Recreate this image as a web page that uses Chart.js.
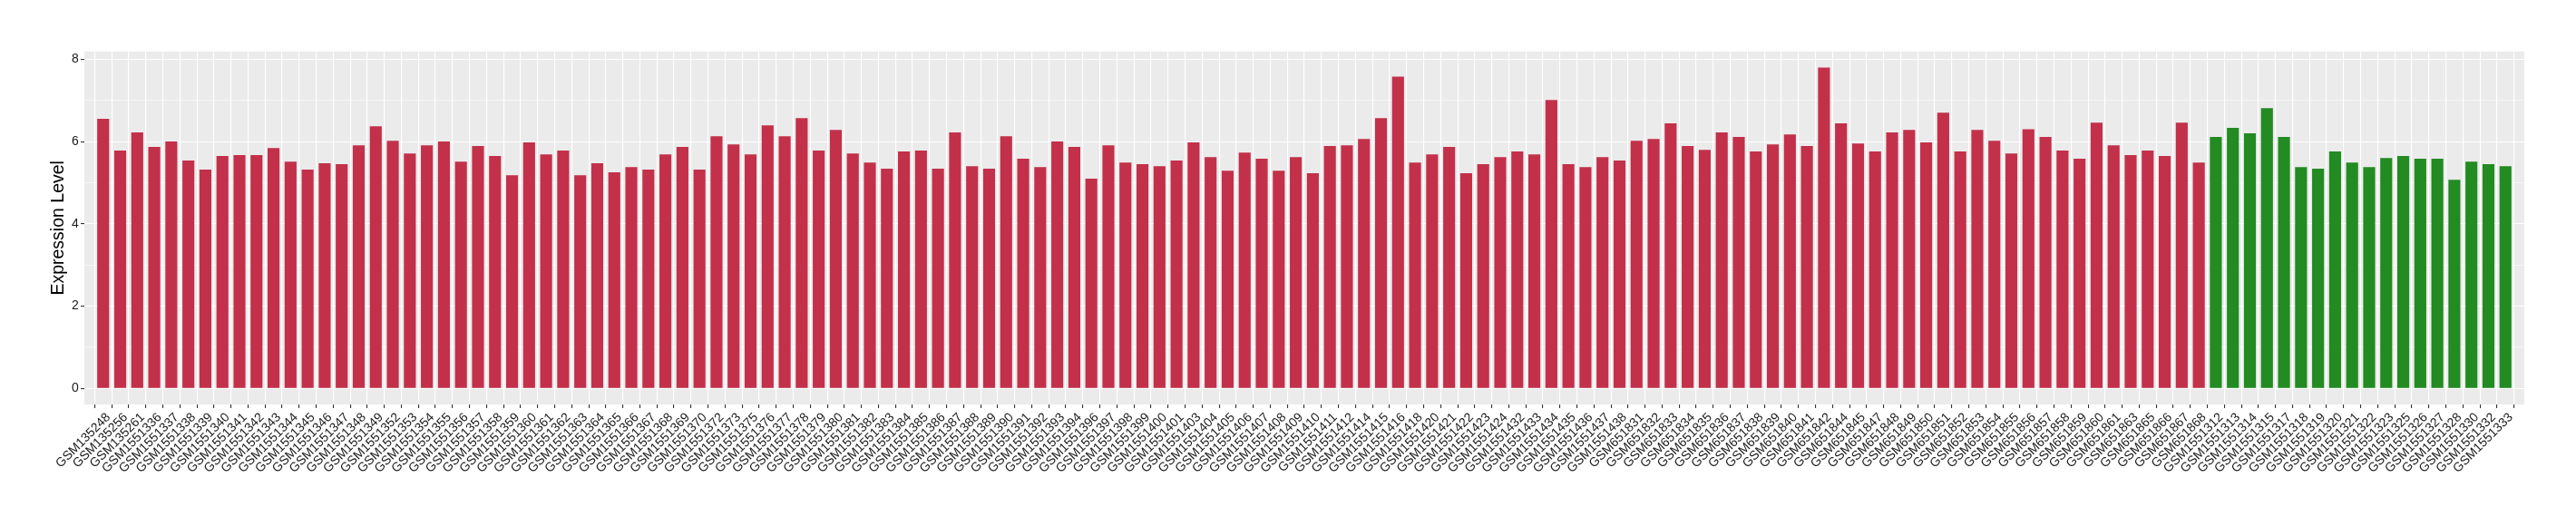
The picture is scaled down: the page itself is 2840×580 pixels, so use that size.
<!DOCTYPE html>
<html>
<head>
<meta charset="utf-8">
<script src="https://cdn.jsdelivr.net/npm/chart.js@4/dist/chart.umd.min.js"></script>
<style>
  html, body { margin: 0; padding: 0; background: #fff; }
  canvas { display: block; }
</style>
</head>
<body>
<canvas id="exprChart" width="2840" height="580"></canvas>
<script>
const tumorSamples = [
    'GSM135248', 'GSM135256', 'GSM135261', 'GSM1551336', 'GSM1551337', 'GSM1551338', 'GSM1551339', 'GSM1551340',
    'GSM1551341', 'GSM1551342', 'GSM1551343', 'GSM1551344', 'GSM1551345', 'GSM1551346', 'GSM1551347', 'GSM1551348',
    'GSM1551349', 'GSM1551352', 'GSM1551353', 'GSM1551354', 'GSM1551355', 'GSM1551356', 'GSM1551357', 'GSM1551358',
    'GSM1551359', 'GSM1551360', 'GSM1551361', 'GSM1551362', 'GSM1551363', 'GSM1551364', 'GSM1551365', 'GSM1551366',
    'GSM1551367', 'GSM1551368', 'GSM1551369', 'GSM1551370', 'GSM1551372', 'GSM1551373', 'GSM1551375', 'GSM1551376',
    'GSM1551377', 'GSM1551378', 'GSM1551379', 'GSM1551380', 'GSM1551381', 'GSM1551382', 'GSM1551383', 'GSM1551384',
    'GSM1551385', 'GSM1551386', 'GSM1551387', 'GSM1551388', 'GSM1551389', 'GSM1551390', 'GSM1551391', 'GSM1551392',
    'GSM1551393', 'GSM1551394', 'GSM1551396', 'GSM1551397', 'GSM1551398', 'GSM1551399', 'GSM1551400', 'GSM1551401',
    'GSM1551403', 'GSM1551404', 'GSM1551405', 'GSM1551406', 'GSM1551407', 'GSM1551408', 'GSM1551409', 'GSM1551410',
    'GSM1551411', 'GSM1551412', 'GSM1551414', 'GSM1551415', 'GSM1551416', 'GSM1551418', 'GSM1551420', 'GSM1551421',
    'GSM1551422', 'GSM1551423', 'GSM1551424', 'GSM1551432', 'GSM1551433', 'GSM1551434', 'GSM1551435', 'GSM1551436',
    'GSM1551437', 'GSM1551438', 'GSM651831', 'GSM651832', 'GSM651833', 'GSM651834', 'GSM651835', 'GSM651836',
    'GSM651837', 'GSM651838', 'GSM651839', 'GSM651840', 'GSM651841', 'GSM651842', 'GSM651844', 'GSM651845',
    'GSM651847', 'GSM651848', 'GSM651849', 'GSM651850', 'GSM651851', 'GSM651852', 'GSM651853', 'GSM651854',
    'GSM651855', 'GSM651856', 'GSM651857', 'GSM651858', 'GSM651859', 'GSM651860', 'GSM651861', 'GSM651863',
    'GSM651865', 'GSM651866', 'GSM651867', 'GSM651868'
];
const tumorExpression = [
    6.55, 5.78, 6.22, 5.87, 6.00, 5.54, 5.32, 5.65,
    5.67, 5.67, 5.84, 5.51, 5.32, 5.47, 5.45, 5.91,
    6.37, 6.02, 5.71, 5.91, 6.00, 5.51, 5.89, 5.65,
    5.18, 5.98, 5.69, 5.78, 5.18, 5.47, 5.25, 5.38,
    5.32, 5.69, 5.87, 5.32, 6.13, 5.93, 5.69, 6.39,
    6.13, 6.57, 5.78, 6.28, 5.71, 5.49, 5.34, 5.76,
    5.78, 5.34, 6.22, 5.40, 5.34, 6.13, 5.58, 5.38,
    6.00, 5.87, 5.10, 5.91, 5.49, 5.45, 5.40, 5.54,
    5.98, 5.62, 5.29, 5.73, 5.58, 5.29, 5.62, 5.23,
    5.89, 5.91, 6.06, 6.57, 7.58, 5.49, 5.69, 5.87,
    5.23, 5.45, 5.62, 5.76, 5.69, 7.01, 5.45, 5.38,
    5.62, 5.54, 6.02, 6.06, 6.44, 5.89, 5.80, 6.22,
    6.11, 5.76, 5.93, 6.17, 5.89, 7.80, 6.44, 5.95,
    5.76, 6.22, 6.28, 5.98, 6.70, 5.76, 6.28, 6.02,
    5.71, 6.30, 6.11, 5.78, 5.58, 6.46, 5.91, 5.67,
    5.78, 5.65, 6.46, 5.49
];
const normalSamples = [
    'GSM1551312', 'GSM1551313', 'GSM1551314', 'GSM1551315', 'GSM1551317', 'GSM1551318', 'GSM1551319', 'GSM1551320',
    'GSM1551321', 'GSM1551322', 'GSM1551323', 'GSM1551325', 'GSM1551326', 'GSM1551327', 'GSM1551328', 'GSM1551330',
    'GSM1551332', 'GSM1551333'
];
const normalExpression = [
    6.11, 6.33, 6.20, 6.81, 6.11, 5.38, 5.34, 5.76,
    5.49, 5.38, 5.60, 5.65, 5.58, 5.58, 5.07, 5.51,
    5.45, 5.40
];
const yMajorTicks = [0, 2, 4, 6, 8];
const yMinorTicks = [1, 3, 5, 7];

const TUMOR_COLOR = '#C3304A';
const NORMAL_COLOR = '#228B22';

document.addEventListener('DOMContentLoaded', function() {
    drawExpressionChart();
});

function drawExpressionChart() {
    const samples = tumorSamples.concat(normalSamples);
    const expression = tumorExpression.concat(normalExpression);
    const colors = samples.map((s, i) => i < tumorSamples.length ? TUMOR_COLOR : NORMAL_COLOR);
    const peak = Math.max(...expression);
    const yTickValues = yMajorTicks.concat(yMinorTicks).sort((a, b) => a - b);
    const isMajor = v => yMajorTicks.includes(v);

    // grey ggplot-style panel behind the grid
    const panelBackground = {
        id: 'panelBackground',
        beforeDraw(chart) {
            const {ctx, chartArea: a} = chart;
            ctx.save();
            ctx.fillStyle = '#EBEBEB';
            ctx.fillRect(a.left, a.top, a.right - a.left, a.bottom - a.top);
            ctx.restore();
        }
    };

    Chart.defaults.font.family = '"Liberation Sans", Arial, sans-serif';

    const ctx = document.getElementById('exprChart').getContext('2d');
    new Chart(ctx, {
        type: 'bar',
        data: {
            datasets: [{
                label: 'Expression Level',
                data: expression.map((v, i) => ({x: i, y: v})),
                backgroundColor: colors,
                borderWidth: 0,
                barPercentage: 0.7,
                categoryPercentage: 1
            }]
        },
        options: {
            responsive: false,
            animation: false,
            devicePixelRatio: 1,
            layout: {
                padding: {left: 0, right: 57, top: 56.7, bottom: 0}
            },
            plugins: {
                legend: { display: false },
                tooltip: { enabled: false }
            },
            scales: {
                x: {
                    type: 'linear',
                    min: -0.6,
                    max: samples.length - 1 + 0.6,
                    afterBuildTicks: scale => {
                        scale.ticks = samples.map((s, i) => ({value: i}));
                    },
                    afterFit: scale => { scale.height = 134; },
                    border: { display: false },
                    grid: {
                        color: '#FFFFFF',
                        lineWidth: 1.1,
                        drawTicks: true,
                        tickLength: 4,
                        tickColor: '#333333',
                        tickWidth: 1.1
                    },
                    ticks: {
                        autoSkip: false,
                        minRotation: 45,
                        maxRotation: 45,
                        padding: 2,
                        labelOffset: 5.9,
                        color: '#1A1A1A',
                        font: { size: 14 },
                        callback: v => samples[v]
                    }
                },
                y: {
                    min: -peak * 0.05,
                    max: peak * 1.05,
                    afterBuildTicks: scale => {
                        scale.ticks = yTickValues.map(v => ({value: v}));
                    },
                    afterFit: scale => { scale.width = 93; },
                    border: { display: false },
                    grid: {
                        color: '#FFFFFF',
                        lineWidth: c => isMajor(c.tick.value) ? 1.1 : 0.55,
                        drawTicks: true,
                        tickLength: 4,
                        tickColor: c => isMajor(c.tick.value) ? '#333333' : 'rgba(0,0,0,0)',
                        tickWidth: 1.1
                    },
                    ticks: {
                        padding: 2.3,
                        color: '#1A1A1A',
                        font: { size: 14 },
                        callback: v => isMajor(v) ? String(v) : ''
                    },
                    title: {
                        display: true,
                        text: 'Expression Level',
                        color: '#000000',
                        font: { size: 19.5 },
                        padding: { top: 53.3, bottom: 0 }
                    }
                }
            }
        },
        plugins: [panelBackground]
    });
}
</script>
</body>
</html>
